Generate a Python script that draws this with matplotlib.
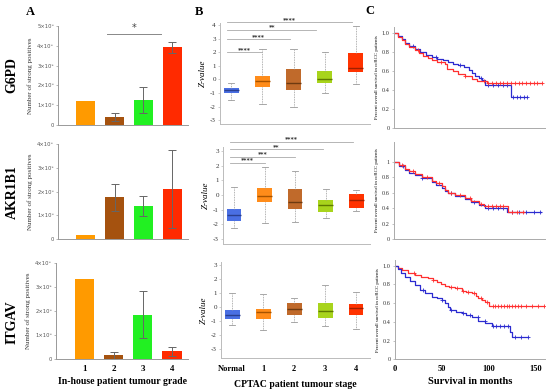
import numpy as np
import matplotlib
matplotlib.use("Agg")
import matplotlib.pyplot as plt

W, H = 550, 389
SERIF = "Liberation Serif"

# ---------------- data ----------------
genes = ["G6PD", "AKR1B1", "ITGAV"]
grades = ["1", "2", "3", "4"]
bar_colors = ["#FF9A00", "#A5520F", "#22F022", "#FF2A00"]
g6pd_vals = [1.2e5, 0.4e5, 1.25e5, 3.92e5]
g6pd_err = [0, 0.2e5, 0.65e5, 0.27e5]
akr_vals = [0.15e5, 1.75e5, 1.4e5, 2.1e5]
akr_err = [0, 0.55e5, 0.43e5, 1.65e5]
itg_vals = [3.35e5, 0.15e5, 1.85e5, 0.32e5]
itg_err = [0, 0.15e5, 0.98e5, 0.2e5]
a_ymax = [5e5, 4e5, 4e5]

stages = ["Normal", "1", "2", "3", "4"]
box_colors = ["#4A6FE3", "#FF8C1A", "#C06A2B", "#A8D41C", "#FF3300"]
med_colors = ["#2A3F8F", "#A65300", "#6E3A10", "#5F7A00", "#A02000"]
# rows: [whislo, q1, med, q3, whishi]
g6pd_box = [[-1.52, -0.98, -0.78, -0.61, -0.25],
            [-1.84, -0.59, -0.12, 0.25, 2.2],
            [-2.0, -0.78, -0.29, 0.74, 2.2],
            [-1.0, -0.29, 0.05, 0.61, 2.0],
            [-0.37, 0.56, 0.81, 1.96, 3.92]]
akr_box = [[-2.27, -1.75, -1.36, -0.98, 0.55],
           [-1.89, -0.5, -0.05, 0.45, 1.93],
           [-1.82, -0.98, -0.45, 0.39, 1.64],
           [-1.55, -1.18, -0.68, -0.36, 0.43],
           [-1.11, -0.91, -0.34, 0.09, 0.32]]
itg_box = [[-1.26, -0.83, -0.55, -0.19, 1.0],
           [-1.62, -0.86, -0.36, -0.1, 0.95],
           [-1.05, -0.57, -0.12, 0.29, 0.64],
           [-1.31, -0.79, -0.24, 0.33, 1.6],
           [-1.57, -0.55, -0.07, 0.24, 1.12]]
b_ylims = [(-3.31, 4.14), (-3.32, 3.28), (-3.64, 3.26)]
b_yticks = [list(range(-3, 5)), list(range(-3, 4)), list(range(-3, 4))]

# significance: (start, end, y, label)
g6pd_sig = [(0.87, 2.0, 1.99, "****"), (0.87, 2.87, 2.94, "****"),
            (0.87, 3.73, 3.65, "**"), (0.87, 4.88, 4.19, "****")]
akr_sig = [(0.87, 2.0, 2.2, "****"), (0.87, 3.0, 2.61, "***"),
           (0.87, 3.9, 3.11, "**"), (0.87, 4.9, 3.64, "****")]

# Kaplan-Meier readings (months, survival)
km1_blue_t = [0, 4, 8, 11.4, 16, 22, 28, 34, 39.9, 46, 52, 57.7, 63, 68.3, 74, 79, 83, 86.1, 90, 93.2, 96.8, 123.5, 141.3]
km1_blue_s = [1.0, 0.97, 0.94, 0.90, 0.87, 0.83, 0.80, 0.775, 0.75, 0.73, 0.715, 0.70, 0.68, 0.66, 0.64, 0.61, 0.58, 0.55, 0.53, 0.505, 0.45, 0.33, 0.33]
km1_red_t = [0, 4, 8, 11.4, 16, 22, 27, 31, 36, 39.9, 46, 54, 55.9, 62, 68.3, 75, 82.6, 88, 93.2, 98.6, 157]
km1_red_s = [1.0, 0.96, 0.93, 0.89, 0.86, 0.82, 0.79, 0.76, 0.74, 0.72, 0.70, 0.68, 0.62, 0.60, 0.57, 0.55, 0.52, 0.50, 0.495, 0.47, 0.47]
km1_blue_c = [20, 45, 70, 92, 100, 105, 110, 115, 120, 126, 130, 134, 138, 141]
km1_red_c = [25, 50, 75, 95, 100, 104, 108, 112, 116, 120, 124, 128, 132, 136, 140, 144, 148, 152, 157]

km2_blue_t = [0, 5, 11.4, 16, 22, 30, 39.9, 45, 50.5, 54, 57.7, 65, 75.4, 82, 89.7, 96.8, 120, 155.5]
km2_blue_s = [1.0, 0.95, 0.89, 0.86, 0.83, 0.785, 0.74, 0.70, 0.655, 0.62, 0.59, 0.56, 0.52, 0.48, 0.44, 0.40, 0.345, 0.345]
km2_red_t = [0, 5, 11.4, 16, 22, 30, 39.9, 45, 50.5, 54, 57.7, 65, 75.4, 82, 89.7, 95, 121, 137.7]
km2_red_s = [1.0, 0.96, 0.91, 0.875, 0.84, 0.80, 0.75, 0.72, 0.68, 0.63, 0.59, 0.565, 0.53, 0.49, 0.45, 0.43, 0.345, 0.345]
km2_blue_c = [10, 30, 60, 85, 100, 105, 110, 115, 125, 132, 140, 148, 155]
km2_red_c = [8, 20, 35, 48, 60, 70, 80, 92, 100, 104, 108, 112, 116, 125, 130, 137]

km3_red_t = [0, 3, 7.1, 14, 21.4, 28, 35.6, 40, 44.5, 49, 53.4, 58, 64, 71.2, 76, 81.9, 86, 89, 93, 96.1, 100.4, 159]
km3_red_s = [1.0, 0.975, 0.954, 0.925, 0.90, 0.88, 0.865, 0.85, 0.83, 0.80, 0.78, 0.775, 0.76, 0.733, 0.72, 0.705, 0.68, 0.65, 0.63, 0.616, 0.573, 0.573]
km3_blue_t = [0, 3, 6, 10.7, 16, 21.4, 27, 32, 39.1, 45, 49.8, 53.4, 56, 58.7, 65, 71.2, 76, 81.9, 89, 96.1, 103.2, 122.8, 124.6, 142.3]
km3_blue_s = [1.0, 0.96, 0.92, 0.88, 0.835, 0.79, 0.745, 0.705, 0.67, 0.65, 0.633, 0.60, 0.56, 0.527, 0.51, 0.49, 0.47, 0.455, 0.413, 0.384, 0.356, 0.295, 0.235, 0.235]
km3_red_c = [20, 40, 60, 66, 72, 78, 84, 92, 98, 104, 107, 110, 113, 116, 119, 122, 125, 128, 131, 134, 140, 146, 152, 159]
km3_blue_c = [30, 50, 60, 72, 80, 88, 96, 105, 108, 112, 116, 120, 128, 134, 142]
surv_ticks = [0, 50, 100, 150]

# ---------------- helpers ----------------
fig = plt.figure(figsize=(W / 100, H / 100), dpi=100)


def rect(x0, y0, x1, y1):
    return [x0 / W, 1 - y1 / H, (x1 - x0) / W, (y1 - y0) / H]


def ftext(x, y, s, **kw):
    fig.text(x / W, 1 - y / H, s, **kw)


def style_axes(ax, spine_col="#AAAAAA"):
    for sp in ["top", "right"]:
        ax.spines[sp].set_visible(False)
    for sp in ["left", "bottom"]:
        ax.spines[sp].set_color(spine_col)
        ax.spines[sp].set_linewidth(0.7)
    ax.tick_params(axis="both", length=1.5, width=0.5, colors=spine_col, pad=1.5)


def sci_label(v):
    if v == 0:
        return "0"
    return "%d×10⁵" % round(v / 1e5)


# ---------------- panel A ----------------
a_rects = [(58, 26, 188, 125), (58, 144, 188, 239), (56, 263, 188, 359)]
a_vals = [g6pd_vals, akr_vals, itg_vals]
a_errs = [g6pd_err, akr_err, itg_err]
gene_y = [75, 192, 322]
pos = np.arange(1, 5)
for r in range(3):
    ax = fig.add_axes(rect(*a_rects[r]))
    style_axes(ax, "#999999")
    ax.bar(pos, a_vals[r], width=0.66, color=bar_colors)
    for i in range(4):
        if a_errs[r][i] > 0:
            ax.errorbar(pos[i], a_vals[r][i], yerr=a_errs[r][i], color="#666666",
                        elinewidth=0.7, capsize=3, capthick=0.7)
    ax.set_xlim(0.03, 4.55)
    ax.set_ylim(0, a_ymax[r])
    yt = np.arange(0, a_ymax[r] + 1, 1e5)
    ax.set_yticks(yt)
    ax.set_yticklabels([sci_label(v) for v in yt], fontsize=3.8, color="#555555")
    ax.set_ylabel("Number of strong positives", fontsize=5, family=SERIF, color="#333333", labelpad=3)
    if r == 2:
        ax.set_xticks(pos)
        ax.set_xticklabels(grades, fontsize=6.5, family=SERIF, fontweight="bold", color="black")
        ax.tick_params(axis="x", length=0, pad=4)
        ax.set_xlabel("In-house patient tumour grade", fontsize=7, family=SERIF,
                      fontweight="bold", labelpad=3)
    else:
        ax.set_xticks([])
    ftext(12, gene_y[r], genes[r], rotation=90, fontsize=10, family=SERIF,
          fontweight="bold", ha="center", va="center")
    if r == 0:
        ax.plot([1.74, 3.62], [4.61e5, 4.61e5], color="#888888", lw=0.7, clip_on=False)
        ax.text(2.68, 4.63e5, "*", ha="center", va="bottom", fontsize=7, color="#444444")

ftext(30, 12, "A", fontsize=9, family=SERIF, fontweight="bold", ha="center", va="center")

# ---------------- panel B ----------------
b_rects = [(220, 23.1, 370, 124.3), (223, 146.9, 370, 243.7), (221, 261.7, 370, 358.3)]
b_data = [g6pd_box, akr_box, itg_box]
b_sigs = [g6pd_sig, akr_sig, []]
for r in range(3):
    ax = fig.add_axes(rect(*b_rects[r]))
    style_axes(ax, "#BBBBBB")
    stats = [dict(whislo=d[0], q1=d[1], med=d[2], q3=d[3], whishi=d[4]) for d in b_data[r]]
    bp = ax.bxp(stats, positions=np.arange(1, 6), widths=0.48, showfliers=False,
                patch_artist=True,
                whiskerprops=dict(color="#999999", lw=0.6, linestyle=(0, (1, 1))),
                capprops=dict(color="#999999", lw=0.6),
                medianprops=dict(lw=1.0),
                boxprops=dict(lw=0))
    for i, b in enumerate(bp["boxes"]):
        b.set_facecolor(box_colors[i])
        b.set_edgecolor(box_colors[i])
        bp["medians"][i].set_color(med_colors[i])
    for c in bp["caps"]:
        x0, x1 = c.get_xdata()
        m = (x0 + x1) / 2
        c.set_xdata([m - 0.1, m + 0.1])
    ax.set_xlim(0.64, 5.45)
    ax.set_ylim(*b_ylims[r])
    ax.set_yticks(b_yticks[r])
    ax.set_yticklabels([str(v) for v in b_yticks[r]], fontsize=5, family=SERIF, color="#333333")
    ax.set_ylabel("Z-value", fontsize=6.5, family=SERIF, style="italic", labelpad=2)
    for (s0, s1, y, lab) in b_sigs[r]:
        ax.plot([s0, s1], [y, y], color="#AAAAAA", lw=0.6, clip_on=False)
        ax.text((s0 + s1) / 2, y + 0.02, lab, ha="center", va="bottom", fontsize=4.5,
                color="#333333", fontweight="bold")
    if r == 2:
        ax.set_xticks(np.arange(1, 6))
        ax.set_xticklabels(stages, fontsize=6, family=SERIF, fontweight="bold", color="black")
        ax.tick_params(axis="x", length=0, pad=5)
        ax.set_xlabel("CPTAC patient tumour stage", fontsize=7, family=SERIF,
                      fontweight="bold", labelpad=5)
    else:
        ax.set_xticks([])

ftext(199, 12, "B", fontsize=9, family=SERIF, fontweight="bold", ha="center", va="center")

# ---------------- panel C ----------------
c_rects = [(394, 26.7, 545, 127.7), (394, 141.7, 545, 239), (395, 260, 545, 359.3)]
c_ylims = [1.07, 1.26, 1.06]
c_ticklabels = [["0", "0.2", "0.4", "0.6", "0.8", "1.0"],
                ["0", "0.2", "0.4", "0.6", "0.8", "1"],
                ["0", "0.2", "0.4", "0.6", "0.8", "1.0"]]
c_curves = [
    [(km1_blue_t, km1_blue_s, km1_blue_c, "#2B2BD0"), (km1_red_t, km1_red_s, km1_red_c, "#FF3030")],
    [(km2_blue_t, km2_blue_s, km2_blue_c, "#2B2BD0"), (km2_red_t, km2_red_s, km2_red_c, "#FF3030")],
    [(km3_red_t, km3_red_s, km3_red_c, "#FF3030"), (km3_blue_t, km3_blue_s, km3_blue_c, "#2B2BD0")],
]
for r in range(3):
    ax = fig.add_axes(rect(*c_rects[r]))
    style_axes(ax, "#AAAAAA")
    for (t, s, cens, col) in c_curves[r]:
        t = np.asarray(t)
        s = np.asarray(s)
        ax.step(t, s, where="post", color=col, lw=0.9)
        idx = np.searchsorted(t, cens, side="right") - 1
        ax.plot(cens, s[idx], "+", color=col, ms=2.5, mew=0.6)
    ax.set_xlim(0, 160)
    ax.set_ylim(0, c_ylims[r])
    ax.set_yticks([0, 0.2, 0.4, 0.6, 0.8, 1.0])
    ax.set_yticklabels(c_ticklabels[r], fontsize=4.5, family=SERIF, color="#333333")
    ax.set_ylabel("Percent overall survival in ccRCC patients", fontsize=3.5, family=SERIF,
                  labelpad=2)
    if r == 2:
        ax.set_xticks(surv_ticks)
        ax.set_xticklabels([str(v) for v in surv_ticks], fontsize=6, family=SERIF,
                           fontweight="bold", color="black")
        ax.tick_params(axis="x", length=0, pad=4)
        ax.set_xlabel("Survival in months", fontsize=7.5, family=SERIF, fontweight="bold",
                      labelpad=3)
    else:
        ax.set_xticks([])

ftext(370, 11, "C", fontsize=9, family=SERIF, fontweight="bold", ha="center", va="center")

fig.savefig("out.png", dpi=100, facecolor="white")
